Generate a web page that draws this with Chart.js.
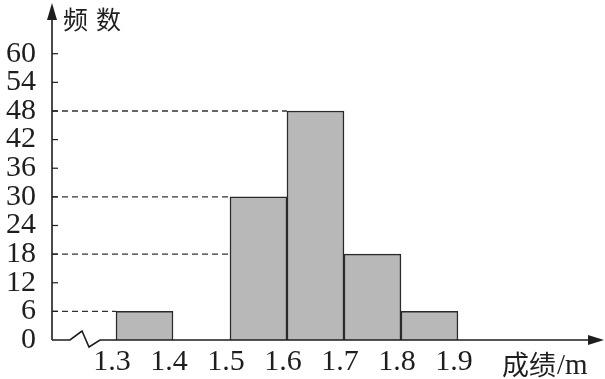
<!DOCTYPE html>
<html><head><meta charset="utf-8">
<script src="https://cdn.jsdelivr.net/npm/chart.js@4/dist/chart.umd.min.js"></script>
<style>html,body{margin:0;padding:0;background:#fff}#wrap{width:605px;height:379px}</style>
</head><body><div id="wrap"><canvas id="c" width="605" height="379"></canvas></div>
<script>
// Data
const binStarts = [1.3, 1.4, 1.5, 1.6, 1.7, 1.8];
const binWidth = 0.1;
const frequencies = [6, 0, 30, 48, 18, 6];
const xTickValues = [1.3, 1.4, 1.5, 1.6, 1.7, 1.8, 1.9];
const yTickValues = [0, 6, 12, 18, 24, 30, 36, 42, 48, 54, 60];
const dashedLevels = [6, 30, 48, 18];          // y values of guide lines
const dashedEnds = [1.3, 1.5, 1.6, 1.7];       // x where each guide line meets its bar
const yTitle = '频数';
const xTitle = '成绩/m';

const X_MIN = 1.1877, X_MAX = 2.158, Y_MAX = 70;

const barData = binStarts.map((s, i) => ({x: +(s + binWidth / 2).toFixed(2), y: frequencies[i]}));
const dashSets = dashedLevels.map((v, i) => ({
  type: 'line',
  data: [{x: X_MIN, y: v}, {x: dashedEnds[i], y: v}],
  borderColor: '#333', borderWidth: 1.4, borderDash: [6, 4],
  pointRadius: 0, fill: false, order: 2
}));

const ink = '#1e1e1e';
const axesPlugin = {
  id: 'axes',
  afterDraw(chart) {
    const ctx = chart.ctx, xs = chart.scales.x, ys = chart.scales.y;
    const x0 = xs.getPixelForValue(X_MIN), y0 = ys.getPixelForValue(0);
    ctx.save();
    ctx.strokeStyle = ink; ctx.fillStyle = ink; ctx.lineWidth = 1.6;
    // y axis
    ctx.beginPath(); ctx.moveTo(x0, y0); ctx.lineTo(x0, 14); ctx.stroke();
    ctx.beginPath(); ctx.moveTo(x0, 3); ctx.lineTo(x0 - 5, 20); ctx.lineTo(x0 + 5, 20); ctx.closePath(); ctx.fill();
    // inward ticks
    ctx.lineWidth = 1.2;
    yTickValues.forEach(v => {
      if (v === 0) return;
      const p = ys.getPixelForValue(v);
      ctx.beginPath(); ctx.moveTo(x0, p); ctx.lineTo(x0 + 6, p); ctx.stroke();
    });
    // x axis with break
    ctx.lineWidth = 1.6;
    ctx.beginPath();
    ctx.moveTo(x0, y0); ctx.lineTo(x0 + 18, y0);
    ctx.lineTo(x0 + 30, y0 - 9); ctx.lineTo(x0 + 37, y0 + 7); ctx.lineTo(x0 + 48, y0);
    ctx.lineTo(592, y0); ctx.stroke();
    ctx.beginPath(); ctx.moveTo(604, y0); ctx.lineTo(588, y0 - 5); ctx.lineTo(588, y0 + 5); ctx.closePath(); ctx.fill();
    // titles
    ctx.textBaseline = 'alphabetic'; ctx.textAlign = 'left';
    ctx.font = '25px "Noto Sans CJK SC"';
    ctx.fillText(yTitle[0], 63, 29);
    ctx.fillText(yTitle[1], 96, 29);
    ctx.font = '27px "Noto Sans CJK SC"';
    ctx.fillText(xTitle.slice(0, 2), 502, 375);
    ctx.font = '29px "Liberation Serif"';
    ctx.fillText(xTitle.slice(2), 557, 374);
    ctx.restore();
  }
};

new Chart(document.getElementById('c'), {
  data: {
    datasets: [{
      type: 'bar', data: barData,
      backgroundColor: '#b8b8b8', borderColor: '#2a2a2a', borderWidth: 1.5,
      barPercentage: 1, categoryPercentage: 1, grouped: false, order: 1
    }, ...dashSets]
  },
  options: {
    responsive: false, animation: false, devicePixelRatio: 1,
    layout: {autoPadding: false, padding: {top: 6, right: 0, left: 0, bottom: 0}},
    plugins: {legend: {display: false}, tooltip: {enabled: false}},
    scales: {
      x: {
        type: 'linear', min: X_MIN, max: X_MAX, offset: false,
        grid: {display: false, drawTicks: false, offset: false}, border: {display: false},
        afterBuildTicks: s => { s.ticks = xTickValues.map(v => ({value: v})); },
        afterFit: s => { s.height = 39; s.paddingLeft = 0; s.paddingRight = 0; },
        ticks: {color: ink, font: {family: 'Liberation Serif', size: 30}, padding: 4, labelOffset: -4,
                autoSkip: false, maxRotation: 0, callback: v => v.toFixed(1)}
      },
      y: {
        type: 'linear', min: 0, max: Y_MAX,
        grid: {display: false, drawTicks: false}, border: {display: false},
        afterBuildTicks: s => { s.ticks = yTickValues.map(v => ({value: v})); },
        afterFit: s => { s.width = 52; s.paddingTop = 0; s.paddingBottom = 0; },
        ticks: {color: ink, font: {family: 'Liberation Serif', size: 30}, padding: 16, autoSkip: false}
      }
    }
  },
  plugins: [axesPlugin]
});
</script></body></html>
